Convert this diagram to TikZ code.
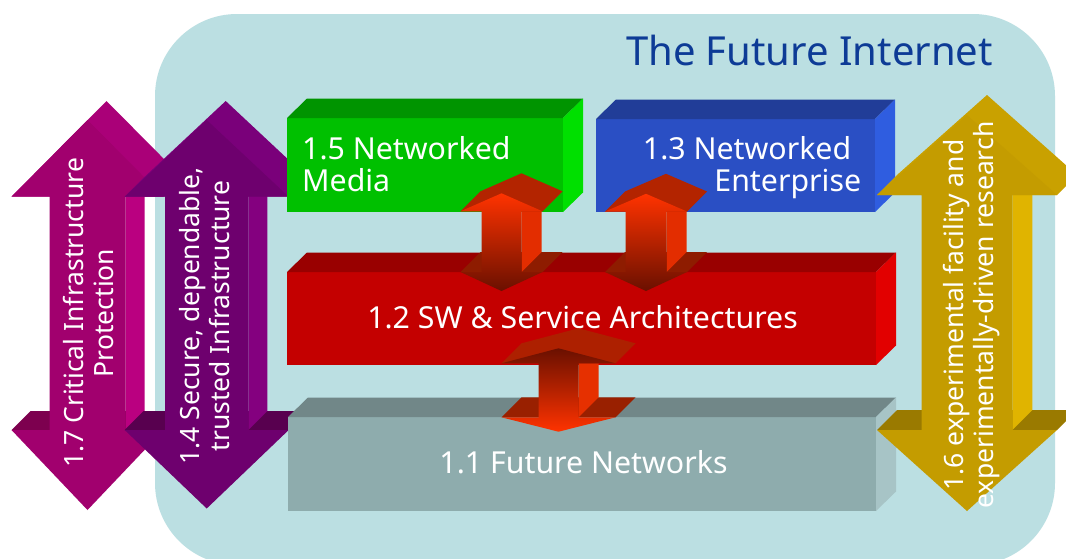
\documentclass[tikz,border=0pt]{standalone}
\usepackage{fontspec}
\setmainfont{Noto Sans}
\usetikzlibrary{calc}
\definecolor{bgc}{HTML}{BBDFE2}
\definecolor{titleblue}{HTML}{0D3B96}
\definecolor{mFront}{HTML}{A1006E}\definecolor{mSlant}{HTML}{AA0078}\definecolor{mSide}{HTML}{BA0080}\definecolor{mShoulder}{HTML}{7D004F}
\definecolor{pFront}{HTML}{6E006E}\definecolor{pSlant}{HTML}{7A007A}\definecolor{pSide}{HTML}{84007F}\definecolor{pShoulder}{HTML}{58004F}
\definecolor{gdFront}{HTML}{C49C00}\definecolor{gdSlant}{HTML}{C9A100}\definecolor{gdSide}{HTML}{E0B400}\definecolor{gdShoulder}{HTML}{9A7A00}
\definecolor{rSlant}{HTML}{B32400}\definecolor{rSide}{HTML}{E32D00}\definecolor{rShoulder}{HTML}{8E1C00}
\definecolor{cSlant}{HTML}{AD2000}\definecolor{cSide}{HTML}{E63000}\definecolor{cShoulder}{HTML}{992000}
\definecolor{rBright}{HTML}{FF3300}\definecolor{rDark}{HTML}{6A1000}
\definecolor{greenF}{HTML}{00C000}\definecolor{greenT}{HTML}{009400}\definecolor{greenR}{HTML}{00E000}
\definecolor{blueF}{HTML}{2A4FC4}\definecolor{blueT}{HTML}{213D98}\definecolor{blueR}{HTML}{2F5DE0}
\definecolor{redF}{HTML}{C40000}\definecolor{redT}{HTML}{990000}\definecolor{redR}{HTML}{E20000}
\definecolor{greyF}{HTML}{8EACAD}\definecolor{greyT}{HTML}{718788}\definecolor{greyR}{HTML}{A7C4C6}

% 3D double arrow: #1 cx, #2 top apex y, #3 top base y, #4 bottom base y, #5 bottom apex y,
% #6 head half width, #7 shaft half width, #8 depth, #9 style suffix
\newcommand\DArrow[9]{%
  \pgfmathsetmacro\aL{#1-#6}\pgfmathsetmacro\aR{#1+#6}%
  \pgfmathsetmacro\sL{#1-#7}\pgfmathsetmacro\sR{#1+#7}%
  \fill[shoulder#9] (\aL,#4) -- ++(#8,-#8) -- ({\aR+#8},{#4-#8}) -- (\aR,#4) -- cycle;
  \fill[side#9] (\sR,#3) -- (\sR,#4) -- ++(#8,-#8) -- ({\sR+#8},{#3-#8}) -- cycle;
  \fill[slant#9] (\aL,#3) -- ++(#8,-#8) -- ({#1+#8},{#2-#8}) -- ({\aR+#8},{#3-#8}) -- (\aR,#3) -- cycle;
  \path[front#9] (#1,#2) -- (\aR,#3) -- (\sR,#3) -- (\sR,#4) -- (\aR,#4) -- (#1,#5)
     -- (\aL,#4) -- (\sL,#4) -- (\sL,#3) -- (\aL,#3) -- cycle;
}
% 3D faces of a box node: #1 node, #2 top colour, #3 right colour
\newcommand\BoxFaces[3]{%
  \fill[#2] (#1.north west) -- ++(20,-19.5) -- ([shift={(20,-19.5)}]#1.north east) -- (#1.north east) -- cycle;
  \fill[#3] (#1.north east) -- ++(20,-19.5) -- ([shift={(20,-19.5)}]#1.south east) -- (#1.south east) -- cycle;
}

\begin{document}
\begin{tikzpicture}[x=1pt,y=-1pt,
  lbl/.style={text=white, inner sep=0pt, font=\fontsize{30.3}{33}\selectfont},
  vlbl/.style={text=white, inner sep=0pt, align=center, rotate=90, font=\fontsize{26.5}{30}\selectfont},
  boxnode/.style={rectangle, inner sep=0pt, outer sep=0pt, anchor=north west, draw=none},
  shoulderM/.style={fill=mShoulder}, sideM/.style={fill=mSide}, slantM/.style={fill=mSlant}, frontM/.style={fill=mFront},
  shoulderP/.style={fill=pShoulder}, sideP/.style={fill=pSide}, slantP/.style={fill=pSlant}, frontP/.style={fill=pFront},
  shoulderG/.style={fill=gdShoulder}, sideG/.style={fill=gdSide}, slantG/.style={fill=gdSlant}, frontG/.style={fill=gdFront},
  shoulderR/.style={fill=rShoulder}, sideR/.style={fill=rSide}, slantR/.style={fill=rSlant}, frontR/.style={top color=rBright, bottom color=rDark},
  shoulderC/.style={fill=cShoulder}, sideC/.style={fill=cSide}, slantC/.style={fill=cSlant}, frontC/.style={top color=rDark, bottom color=rBright},
]
\clip (0,0) rectangle (1066,558);
\fill[white] (0,0) rectangle (1066,558);
% background panel
\fill[bgc, rounded corners=82pt] (155,14) rectangle (1055,565);
\node[anchor=base east, text=titleblue, inner sep=0pt, font=\fontsize{40}{44}\selectfont] (title) at (993,65) {The Future Internet};

% left vertical double arrows
\DArrow{87.5}{120}{196.7}{430}{510}{76}{38}{19}{M}
\DArrow{206.7}{120}{196.7}{430}{508.5}{82}{41.7}{19}{P}

% boxes
\node[boxnode, fill=greenF, minimum width=276pt, minimum height=94pt] (media) at (287,118) {};
\BoxFaces{media}{greenT}{greenR}
\node[boxnode, fill=blueF, minimum width=279pt, minimum height=93pt] (enterprise) at (596,119) {};
\BoxFaces{enterprise}{blueT}{blueR}
\node[boxnode, fill=redF, minimum width=589pt, minimum height=93pt] (sw) at (287,272) {};
\BoxFaces{sw}{redT}{redR}
\node[boxnode, fill=greyF, minimum width=588pt, minimum height=94pt] (fn) at (288,417) {};
\BoxFaces{fn}{greyT}{greyR}

% box labels
\node[lbl, anchor=base west] (media1) at (302,159.5) {1.5 Networked};
\node[lbl, anchor=base west] (media2) at (302,191.7) {Media};
\node[lbl, anchor=base east] (ent1) at (851.4,159.5) {1.3 Networked};
\node[lbl, anchor=base east] (ent2) at (861.3,191.7) {Enterprise};
\node[lbl, anchor=base] (swl) at (582.5,328) {1.2 SW \& Service Architectures};
\node[lbl, anchor=base] (fnl) at (583.5,473) {1.1 Future Networks};

% red connecting arrows
\DArrow{501.5}{193.3}{211.3}{272}{291}{41}{20}{20}{R}
\DArrow{646}{193.8}{211.5}{272}{291}{41}{20.5}{20}{R}
\DArrow{558.5}{348.3}{363.3}{417.3}{431.7}{57}{20}{20}{C}

% right vertical double arrow
\DArrow{967}{115}{195}{430}{511}{90}{45.3}{20}{G}

% vertical labels
\node[vlbl] (cip) at (88.3,313) {1.7 Critical Infrastructure\\Protection};
\node[vlbl] (sec) at (205,316) {1.4 Secure, dependable,\\trusted Infrastructure};
\node[vlbl] (exp) at (971.5,315) {1.6 experimental facility and\\experimentally-driven research};
\end{tikzpicture}
\end{document}
